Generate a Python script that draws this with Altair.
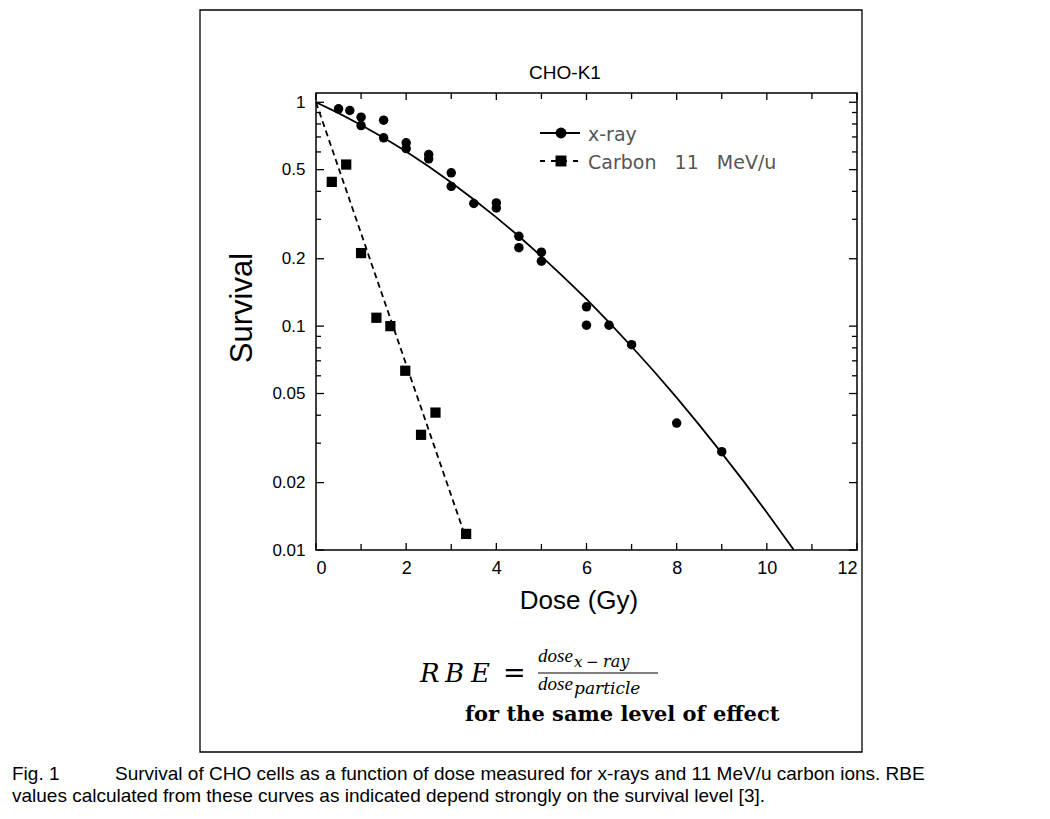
import altair as alt
import pandas as pd

# ---------------- data ----------------
xray_dose = [0.5, 0.75, 1.0, 1.0, 1.5, 1.5, 2.0, 2.0, 2.5, 2.5, 3.0, 3.0, 3.5,
             4.0, 4.0, 4.5, 4.5, 5.0, 5.0, 6.0, 6.0, 6.5, 7.0, 8.0, 9.0]
xray_surv = [0.935, 0.919, 0.858, 0.787, 0.832, 0.694, 0.659, 0.621, 0.584, 0.559,
             0.484, 0.421, 0.353, 0.355, 0.337, 0.252, 0.224, 0.214, 0.195, 0.122,
             0.101, 0.101, 0.0826, 0.0369, 0.0275]

carbon_dose = [0.35, 0.67, 1.0, 1.34, 1.65, 1.98, 2.33, 2.65, 3.33]
carbon_surv = [0.441, 0.527, 0.212, 0.109, 0.100, 0.0632, 0.0327, 0.0411, 0.0118]

# fitted curves
xfit_dose = [0, 0.5, 1, 1.5, 2, 2.5, 3, 3.5, 4, 4.5, 5, 5.5, 6, 6.5, 7, 7.5, 8,
             8.5, 9, 9.5, 10, 10.6]
xfit_surv = [1.0, 0.894, 0.792, 0.694, 0.602, 0.516, 0.438, 0.368, 0.306, 0.252,
             0.205, 0.165, 0.132, 0.104, 0.0811, 0.0627, 0.0479, 0.0362, 0.0271,
             0.0201, 0.0147, 0.0100]
cfit_dose = [0.0, 3.28]
cfit_surv = [1.0, 0.012]

x_major = [0, 2, 4, 6, 8, 10, 12]
x_minor = [1, 3, 5, 7, 9, 11]
y_major = [0.01, 0.02, 0.05, 0.1, 0.2, 0.5, 1]
y_minor = [0.03, 0.04, 0.06, 0.07, 0.08, 0.09, 0.3, 0.4, 0.6, 0.7, 0.8, 0.9]

W, H = 541, 457
XDOM = [0, 12]
YDOM = [0.01, 1.1]

xs = alt.Scale(domain=XDOM, nice=False, zero=False)
ys = alt.Scale(type="log", domain=YDOM, nice=False)

SANS = "Liberation Sans"
SERIF = "Liberation Serif"
DSERIF = "DejaVu Serif"

xray_pts = pd.DataFrame({"dose": xray_dose, "surv": xray_surv})
carb_pts = pd.DataFrame({"dose": carbon_dose, "surv": carbon_surv})
xfit = pd.DataFrame({"dose": xfit_dose, "surv": xfit_surv})
cfit = pd.DataFrame({"dose": cfit_dose, "surv": cfit_surv})

x_axis = alt.Axis(values=x_major, title=None, ticks=False, domain=False, grid=False,
                  labelPadding=9, labelFontSize=18, labelFont=SANS, labelColor="black",
                  format="d")
y_axis = alt.Axis(values=y_major, title=None, ticks=False, domain=False, grid=False,
                  labelPadding=11, labelFontSize=17, labelFont=SANS, labelColor="black",
                  format="~g")

xfit_line = alt.Chart(xfit).mark_line(color="black", strokeWidth=1.8).encode(
    x=alt.X("dose:Q", scale=xs, axis=x_axis), y=alt.Y("surv:Q", scale=ys, axis=y_axis))
cfit_line = alt.Chart(cfit).mark_line(color="black", strokeWidth=1.8,
                                      strokeDash=[6, 4]).encode(
    x=alt.X("dose:Q", scale=xs), y=alt.Y("surv:Q", scale=ys))
xray_marks = alt.Chart(xray_pts).mark_point(shape="circle", filled=True, color="black",
                                            size=90, opacity=1).encode(
    x=alt.X("dose:Q", scale=xs), y=alt.Y("surv:Q", scale=ys))
carb_marks = alt.Chart(carb_pts).mark_point(shape="square", filled=True, color="black",
                                            size=105, opacity=1).encode(
    x=alt.X("dose:Q", scale=xs), y=alt.Y("surv:Q", scale=ys))

# inward tick marks on all four sides
def xticks(vals, length):
    df = pd.DataFrame({"dose": vals})
    bottom = alt.Chart(df).mark_rule(color="black", strokeWidth=1.3).encode(
        x=alt.X("dose:Q", scale=xs), y=alt.value(H), y2=alt.value(H - length))
    top = alt.Chart(df).mark_rule(color="black", strokeWidth=1.3).encode(
        x=alt.X("dose:Q", scale=xs), y=alt.value(0), y2=alt.value(length))
    return [bottom, top]

def yticks(vals, length):
    df = pd.DataFrame({"surv": vals})
    left = alt.Chart(df).mark_rule(color="black", strokeWidth=1.3).encode(
        y=alt.Y("surv:Q", scale=ys), x=alt.value(0), x2=alt.value(length))
    right = alt.Chart(df).mark_rule(color="black", strokeWidth=1.3).encode(
        y=alt.Y("surv:Q", scale=ys), x=alt.value(W), x2=alt.value(W - length))
    return [left, right]

tick_layers = xticks(x_major, 7) + xticks(x_minor, 6) + yticks(y_major, 8) + yticks(y_minor, 5)

one = pd.DataFrame({"k": [0]})

def text(txt, x, y, **kw):
    return alt.Chart(pd.DataFrame({"t": [txt]})).mark_text(**kw).encode(
        x=alt.value(x), y=alt.value(y), text="t:N")

NB = "\u00a0"

# legend (drawn by hand, like the original figure)
leg = [
    alt.Chart(one).mark_rule(color="black", strokeWidth=1.8).encode(
        x=alt.value(224), x2=alt.value(264), y=alt.value(40)),
    alt.Chart(one).mark_point(shape="circle", filled=True, color="black", size=120,
                              opacity=1).encode(x=alt.value(245), y=alt.value(40)),
    alt.Chart(one).mark_rule(color="black", strokeWidth=1.8, strokeDash=[5, 6]).encode(
        x=alt.value(224), x2=alt.value(266), y=alt.value(68)),
    alt.Chart(one).mark_point(shape="square", filled=True, color="black", size=120,
                              opacity=1).encode(x=alt.value(245), y=alt.value(68)),
    text("x-ray", 272, 42, align="left", baseline="middle", font="DejaVu Sans",
         fontSize=19, color="#555"),
    text("Carbon" + NB + NB + " 11" + NB + NB + " MeV/u", 272, 70, align="left",
         baseline="middle", font="DejaVu Sans", fontSize=19, color="#555"),
]

annot = [
    text("CHO-K1", 249, -20, align="center", baseline="middle", font=SANS,
         fontSize=19, color="black"),
    text("Dose (Gy)", 263, 508, align="center", baseline="middle", font=SANS,
         fontSize=26, color="black"),
    text("Survival", -73, 215, align="center", baseline="middle", font=SANS,
         fontSize=31, angle=270, color="black"),
    # RBE = dose_{x-ray} / dose_{particle}
    text("R", 104, 589, align="left", baseline="alphabetic", font=DSERIF,
         fontSize=26, fontStyle="italic", color="black"),
    text("B", 129, 589, align="left", baseline="alphabetic", font=DSERIF,
         fontSize=26, fontStyle="italic", color="black"),
    text("E", 155, 589, align="left", baseline="alphabetic", font=DSERIF,
         fontSize=26, fontStyle="italic", color="black"),
    text("=", 187, 589, align="left", baseline="alphabetic", font=DSERIF,
         fontSize=27, color="black"),
    text("dose", 222, 569, align="left", baseline="alphabetic", font=SERIF,
         fontSize=19, fontStyle="italic", color="black"),
    text("x", 258, 574, align="left", baseline="alphabetic", font=DSERIF,
         fontSize=15, fontStyle="italic", color="black"),
    text("\u2212", 270, 574, align="left", baseline="alphabetic", font=DSERIF,
         fontSize=15, color="black"),
    text("ray", 287, 574, align="left", baseline="alphabetic", font=DSERIF,
         fontSize=16, fontStyle="italic", color="black"),
    alt.Chart(one).mark_rule(color="black", strokeWidth=1).encode(
        x=alt.value(222), x2=alt.value(342), y=alt.value(580)),
    text("dose", 222, 597, align="left", baseline="alphabetic", font=SERIF,
         fontSize=19, fontStyle="italic", color="black"),
    text("particle", 258, 601, align="left", baseline="alphabetic", font=DSERIF,
         fontSize=17, fontStyle="italic", color="black"),
    text("for the same level of effect", 149, 628, align="left", baseline="alphabetic",
         font=DSERIF, fontSize=21, fontWeight="bold", color="black"),
    alt.Chart(one).mark_rect(fillOpacity=0, stroke="black", strokeWidth=1.3).encode(
        x=alt.value(-116), x2=alt.value(546), y=alt.value(-83), y2=alt.value(659)),
    text("Fig. 1", -304, 687, align="left", baseline="alphabetic", font=SANS,
         fontSize=19, color="black"),
    text("Survival of CHO cells as a function of dose measured for x-rays and 11 MeV/u carbon ions. RBE",
         -201, 687, align="left", baseline="alphabetic", font=SANS, fontSize=19,
         color="black"),
    text("values calculated from these curves as indicated depend strongly on the survival level [3].",
         -304, 709, align="left", baseline="alphabetic", font=SANS, fontSize=19,
         color="black"),
]

chart = alt.layer(
    xfit_line, cfit_line, xray_marks, carb_marks, *tick_layers, *leg, *annot
).properties(
    width=W, height=H,
    padding={"left": 308, "top": 85, "right": 185, "bottom": 258},
    autosize=alt.AutoSizeParams(type="none"),
    background="white",
).configure_view(stroke="black", strokeWidth=1.5)

chart.save("out.html", embed_options={"renderer": "svg", "actions": False})
